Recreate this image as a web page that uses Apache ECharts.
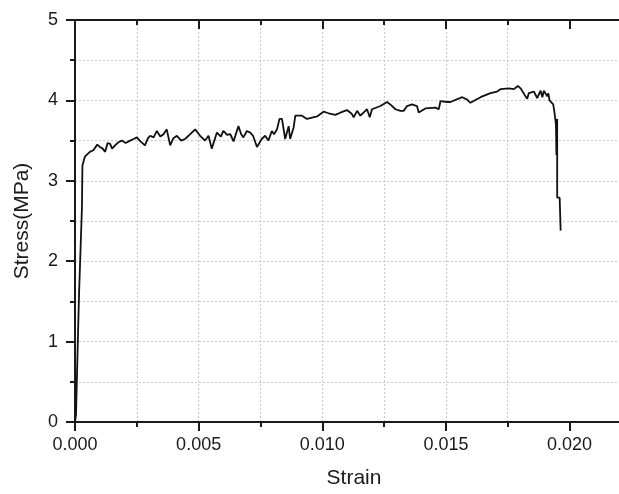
<!DOCTYPE html>
<html>
<head>
<meta charset="utf-8">
<script src="https://cdn.jsdelivr.net/npm/echarts@6/dist/echarts.min.js"></script>
<style>html,body{margin:0;padding:0;background:#fff;}#c{width:619px;height:494px;}</style>
</head>
<body>
<div id="c"></div>
<script>
const strain = [0,0.00004,0.00016,0.00028,0.0003,0.0004,0.00047,0.0006,0.00074,0.0009,0.00101,0.00112,0.00122,0.00132,0.00142,0.0015,0.00162,0.00176,0.00189,0.00205,0.00223,0.00237,0.0025,0.00265,0.00283,0.00295,0.00304,0.00318,0.00331,0.00345,0.00358,0.00371,0.00385,0.00398,0.00412,0.0043,0.00445,0.00466,0.00486,0.00506,0.00526,0.0054,0.00553,0.00574,0.0059,0.006,0.00615,0.00628,0.00641,0.00661,0.00672,0.00681,0.00695,0.00709,0.0072,0.00736,0.00742,0.00755,0.00769,0.00782,0.00796,0.00805,0.00817,0.00827,0.00837,0.0085,0.00864,0.0087,0.00884,0.00891,0.00918,0.00938,0.00979,0.01005,0.01026,0.01053,0.01075,0.011,0.0112,0.01127,0.01141,0.01154,0.01181,0.01192,0.01201,0.01235,0.01262,0.01275,0.01296,0.01316,0.01329,0.01343,0.01363,0.01383,0.0139,0.01397,0.01417,0.01424,0.01458,0.01464,0.01471,0.01478,0.01505,0.01518,0.01566,0.01586,0.01599,0.0164,0.0168,0.01707,0.01721,0.01754,0.01775,0.01791,0.01802,0.01822,0.01829,0.01835,0.01856,0.01869,0.01883,0.0189,0.01896,0.0191,0.01914,0.01919,0.01934,0.01939,0.01945,0.01947,0.0195,0.0195,0.0196,0.01964];
const stress = [0,0.09,1.56,2.66,3.19,3.3,3.28,3.36,3.38,3.45,3.42,3.4,3.36,3.47,3.46,3.4,3.44,3.48,3.5,3.47,3.5,3.52,3.54,3.49,3.44,3.53,3.56,3.54,3.62,3.55,3.58,3.64,3.44,3.53,3.56,3.5,3.52,3.58,3.64,3.56,3.5,3.56,3.4,3.6,3.55,3.62,3.57,3.58,3.49,3.68,3.58,3.54,3.62,3.6,3.56,3.42,3.4,3.52,3.56,3.5,3.62,3.58,3.64,3.77,3.77,3.52,3.68,3.52,3.66,3.81,3.81,3.77,3.8,3.86,3.84,3.82,3.85,3.88,3.83,3.79,3.87,3.81,3.89,3.79,3.89,3.93,3.98,3.95,3.89,3.87,3.87,3.93,3.95,3.93,3.85,3.86,3.9,3.91,3.91,3.9,3.89,3.99,3.98,3.98,4.04,4.01,3.97,4.04,4.09,4.11,4.14,4.15,4.14,4.18,4.15,4.05,4.02,4.09,4.11,4.03,4.12,4.04,4.12,4.05,4.09,4.0,3.95,3.85,3.7,3.32,3.77,2.79,2.79,2.38];
const xMajorTicks = [0, 0.005, 0.010, 0.015, 0.020];
const xMinorTicks = [0, 0.0025, 0.005, 0.0075, 0.010, 0.0125, 0.015, 0.0175, 0.020];
const xTickLabels = ['0.000', '0.005', '0.010', '0.015', '0.020'];
const yTicks = [0, 1, 2, 3, 4, 5];

const FONT = '"Liberation Sans", Arial, sans-serif';
const chart = echarts.init(document.getElementById('c'), null, {renderer: 'canvas'});
const gridLine = {show: true, showMinLine: false, showMaxLine: false, lineStyle: {color: '#c8c8c8', type: [2, 2], width: 1}};
const axisLine = {show: true, onZero: false, lineStyle: {color: '#1a1a1a', width: 2}};
const common = {type: 'value', min: 0, max: 0.022, gridIndex: 0};
const data = strain.map((s, i) => [s, stress[i]]);

chart.setOption({
  animation: false,
  grid: {left: 75, top: 20, bottom: 67, right: 0},
  xAxis: [
    Object.assign({}, common, {
      position: 'bottom', interval: 0.0025,
      axisLine: axisLine,
      axisTick: {show: true, customValues: xMinorTicks, length: 5, inside: false, lineStyle: {color: '#1a1a1a', width: 2}},
      axisLabel: {show: true, customValues: xMajorTicks, margin: 14, color: '#1a1a1a', fontSize: 18, fontFamily: FONT,
        formatter: v => { const i = xMajorTicks.findIndex(t => Math.abs(t - v) < 1e-9); return i >= 0 ? xTickLabels[i] : ''; }},
      splitLine: gridLine,
      name: 'Strain', nameLocation: 'middle', nameGap: 46,
      nameTextStyle: {color: '#1a1a1a', fontSize: 21, fontFamily: FONT, padding: [0, 0, 0, 14]}
    }),
    Object.assign({}, common, {
      position: 'bottom', interval: 0.005,
      axisLine: {show: false}, axisLabel: {show: false}, splitLine: {show: false},
      axisTick: {show: true, customValues: xMajorTicks, length: 9, inside: false, lineStyle: {color: '#1a1a1a', width: 2}}
    }),
    Object.assign({}, common, {
      position: 'top', interval: 0.0025,
      axisLine: axisLine, axisLabel: {show: false}, splitLine: {show: false},
      axisTick: {show: true, customValues: xMinorTicks, length: 5, inside: true, lineStyle: {color: '#1a1a1a', width: 2}}
    }),
    Object.assign({}, common, {
      position: 'top', interval: 0.005,
      axisLine: {show: false}, axisLabel: {show: false}, splitLine: {show: false},
      axisTick: {show: true, customValues: xMajorTicks, length: 9, inside: true, lineStyle: {color: '#1a1a1a', width: 2}}
    })
  ],
  yAxis: {
    type: 'value', min: yTicks[0], max: yTicks[yTicks.length - 1], interval: 1,
    axisLine: axisLine,
    axisTick: {show: true, length: 9, inside: false, lineStyle: {color: '#1a1a1a', width: 2}},
    minorTick: {show: true, splitNumber: 2, length: 5, lineStyle: {color: '#1a1a1a', width: 2}},
    axisLabel: {margin: 17, color: '#1a1a1a', fontSize: 18, fontFamily: FONT},
    splitLine: gridLine,
    minorSplitLine: gridLine,
    name: 'Stress(MPa)', nameLocation: 'middle', nameGap: 42,
    nameTextStyle: {color: '#1a1a1a', fontSize: 21, fontFamily: FONT}
  },
  series: [{
    type: 'line', xAxisIndex: 0, yAxisIndex: 0, data: data,
    showSymbol: false, symbol: 'none',
    lineStyle: {color: '#111', width: 1.8}
  }]
});
</script>
</body>
</html>
